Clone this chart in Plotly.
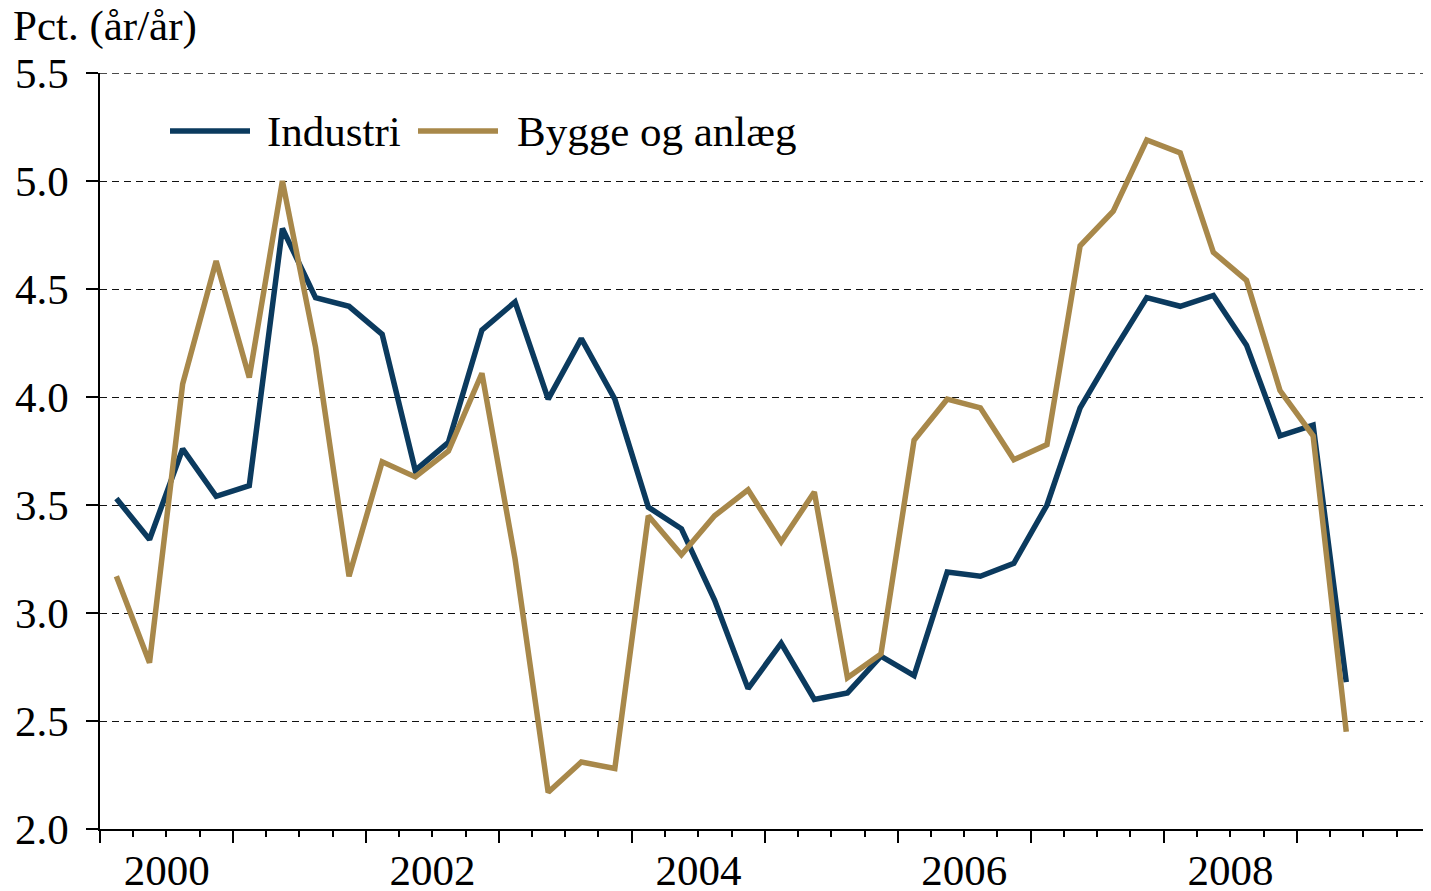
import plotly.graph_objects as go
import pandas as pd

quarters = [
    "2000Q1", "2000Q2", "2000Q3", "2000Q4",
    "2001Q1", "2001Q2", "2001Q3", "2001Q4",
    "2002Q1", "2002Q2", "2002Q3", "2002Q4",
    "2003Q1", "2003Q2", "2003Q3", "2003Q4",
    "2004Q1", "2004Q2", "2004Q3", "2004Q4",
    "2005Q1", "2005Q2", "2005Q3", "2005Q4",
    "2006Q1", "2006Q2", "2006Q3", "2006Q4",
    "2007Q1", "2007Q2", "2007Q3", "2007Q4",
    "2008Q1", "2008Q2", "2008Q3", "2008Q4",
    "2009Q1", "2009Q2",
]

industri = [
    3.53, 3.34, 3.76, 3.54,
    3.59, 4.78, 4.46, 4.42,
    4.29, 3.66, 3.79, 4.31,
    4.44, 3.99, 4.27, 3.99,
    3.49, 3.39, 3.06, 2.65,
    2.86, 2.60, 2.63, 2.80,
    2.71, 3.19, 3.17, 3.23,
    3.50, 3.95, 4.21, 4.46,
    4.42, 4.47, 4.24, 3.82,
    3.87, 2.68,
]

bygge = [
    3.17, 2.77, 4.06, 4.63,
    4.09, 5.00, 4.23, 3.17,
    3.70, 3.63, 3.75, 4.11,
    3.25, 2.17, 2.31, 2.28,
    3.45, 3.27, 3.45, 3.57,
    3.33, 3.56, 2.70, 2.81,
    3.80, 3.99, 3.95, 3.71,
    3.78, 4.70, 4.86, 5.19,
    5.13, 4.67, 4.54, 4.03,
    3.82, 2.45,
]

year_labels = ["2000", "2002", "2004", "2006", "2008"]

series_names = ["Industri", "Bygge og anlæg"]
colors = ["#0B3A5E", "#A8884A"]

# mid-quarter dates
periods = pd.PeriodIndex(quarters, freq="Q")
xdates = [(p.start_time + (p.end_time - p.start_time) / 2).strftime("%Y-%m-%d") for p in periods]
label_pos = [f"{y}-07-02" for y in year_labels]

FONT = "Liberation Serif, Times New Roman, serif"
FS = 43
xrange = ["2000-01-01", "2010-01-01"]
YMIN, YMAX = 2.0, 5.5
PW, PH = 1330, 756  # plot area size in px

fig = go.Figure()
for name, vals, col in zip(series_names, [industri, bygge], colors):
    fig.add_trace(go.Scatter(x=xdates, y=vals, mode="lines", name=name,
                             line=dict(color=col, width=5.5), showlegend=False))
# dummy trace for label axis
fig.add_trace(go.Scatter(x=[], y=[], xaxis="x2", showlegend=False))

# page body has an 8px margin, so the figure is sized/offset to compensate
fig.update_layout(
    width=1423, height=883,
    margin=dict(l=92, r=1, t=65, b=62),
    paper_bgcolor="white", plot_bgcolor="white",
    font=dict(family=FONT, size=FS, color="black"),
    xaxis=dict(
        type="date", range=xrange, automargin=False,
        tickmode="linear", tick0="2000-01-01", dtick="M12",
        ticks="outside", ticklen=12, tickwidth=1.5, tickcolor="black",
        showticklabels=False, showgrid=False, zeroline=False,
        showline=True, linecolor="black", linewidth=1.5,
        minor=dict(dtick="M3", tick0="2000-01-01", ticks="outside", ticklen=6,
                   tickwidth=1.5, tickcolor="black", showgrid=False),
    ),
    xaxis2=dict(
        type="date", range=xrange, overlaying="x", anchor="y", side="bottom",
        automargin=False,
        tickmode="array", tickvals=label_pos, ticktext=year_labels,
        ticks="", showline=False, showgrid=False, zeroline=False,
        ticklabelstandoff=12,
        tickfont=dict(family=FONT, size=FS, color="black"),
    ),
    yaxis=dict(
        range=[YMIN, YMAX], tickmode="linear", tick0=2.0, dtick=0.5, tickformat=".1f",
        automargin=False,
        ticks="outside", ticklen=12, tickwidth=1.5, tickcolor="black",
        showline=True, linecolor="black", linewidth=1.5,
        showgrid=True, gridcolor="#111111", gridwidth=1.4, griddash="7px,5px",
        zeroline=False, ticklabelstandoff=9,
        tickfont=dict(family=FONT, size=FS, color="black"),
    ),
)

# top gridline at the upper edge of the range
fig.add_shape(type="line", xref="paper", yref="y", x0=0, x1=1, y0=YMAX, y1=YMAX,
              line=dict(color="#111111", width=1.4, dash="7px,5px"), layer="below")

# title
fig.add_annotation(text="Pct. (år/år)", xref="paper", yref="paper",
                   x=-89/PW, y=1 + 47/PH, xanchor="left", yanchor="middle",
                   showarrow=False, font=dict(family=FONT, size=FS, color="black"))

# manual legend
leg_y = 1 - 58 / PH
legend_items = [(70, 150, 165), (318, 398, 415)]  # px from plot-area left edge
for (x0, x1, xt), name, col in zip(legend_items, series_names, colors):
    fig.add_shape(type="line", xref="paper", yref="paper",
                  x0=x0 / PW, x1=x1 / PW, y0=leg_y, y1=leg_y,
                  line=dict(color=col, width=5.5))
    fig.add_annotation(text=name, xref="paper", yref="paper",
                       x=xt / PW, y=leg_y, xanchor="left", yanchor="middle",
                       showarrow=False, font=dict(family=FONT, size=FS, color="black"))

fig.write_html("out.html")
